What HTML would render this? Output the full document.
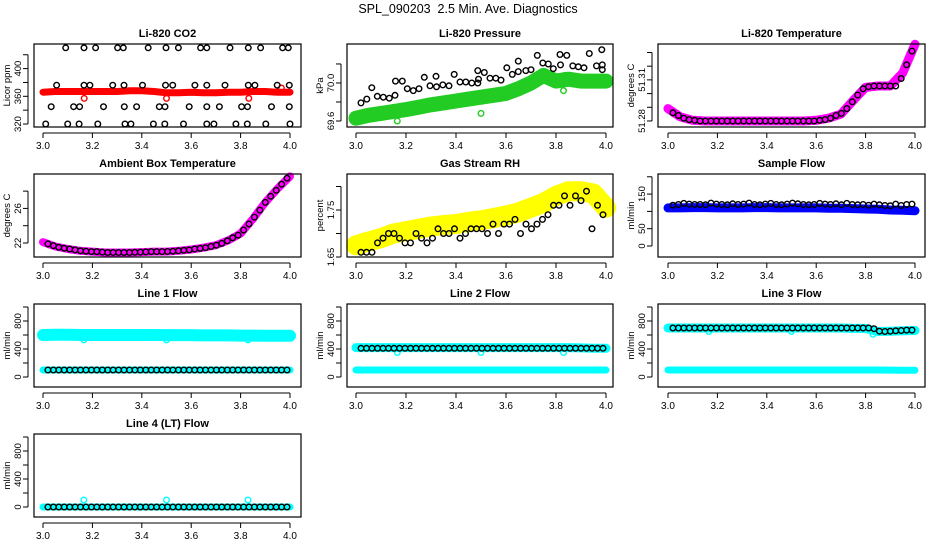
<!DOCTYPE html>
<html><head><meta charset="utf-8"><style>
body{margin:0;background:#fff}
svg{display:block;font-family:"Liberation Sans",sans-serif}
</style></head><body>
<svg id="c" width="936" height="540" viewBox="0 0 936 540" xmlns="http://www.w3.org/2000/svg">
<text x="468" y="13" text-anchor="middle" font-size="12.5">SPL_090203&#160; 2.5 Min. Ave. Diagnostics</text>
</svg>
<script>
const XT=[3.0,3.2,3.4,3.6,3.8,4.0];
const BAND_X=[3.0,3.05,3.1,3.15,3.2,3.25,3.3,3.35,3.4,3.45,3.5,3.55,3.6,3.65,3.7,3.75,3.8,3.85,3.9,3.95,4.0];
const BX=[3.02,3.042,3.064,3.086,3.108,3.13,3.152,3.174,3.196,3.218,3.24,3.262,3.284,3.306,3.328,3.35,3.372,3.394,3.416,3.438,3.46,3.482,3.504,3.526,3.548,3.57,3.592,3.614,3.636,3.658,3.68,3.702,3.724,3.746,3.768,3.79,3.812,3.834,3.856,3.878,3.9,3.922,3.944,3.966,3.988];
// CO2
const co2Band=[366,367,367,367,367,367,367,368,368,367,365,365,366,365,365,366,366,367,367,366,366];
const co2BlackX=[3.092,3.166,3.213,3.302,3.325,3.426,3.498,3.548,3.638,3.663,3.757,3.831,3.881,3.970,3.993,
3.055,3.166,3.190,3.282,3.328,3.403,3.496,3.525,3.615,3.663,3.737,3.831,3.858,3.948,3.997,
3.033,3.124,3.148,3.245,3.329,3.379,3.471,3.494,3.592,3.663,3.714,3.804,3.828,3.925,3.997,
3.011,3.100,3.146,3.222,3.332,3.356,3.447,3.493,3.569,3.663,3.692,3.781,3.827,3.902,4.0];
const co2BlackY=[430,430,430,430,430,430,430,430,430,430,430,430,430,430,430,
376,376,376,376,376,376,376,376,376,376,376,376,376,376,376,
345,345,345,345,345,345,345,345,345,345,345,345,345,345,345,
320,320,320,320,320,320,320,320,320,320,320,320,320,320,320];
const co2OutX=[3.167,3.5,3.833,3.965];
const co2OutY=[357,357,357,372];
// Pressure
const presBand=[69.63,69.66,69.68,69.70,69.72,69.745,69.77,69.79,69.81,69.83,69.85,69.87,69.89,69.94,70.0,70.08,70.02,70.04,70.02,70.02,70.02];
const presBlackX=[3.02,3.043,3.063,3.085,3.109,3.133,3.156,3.158,3.185,3.205,3.229,3.252,3.273,3.296,3.32,3.322,3.347,3.372,3.393,3.416,3.439,3.463,3.487,3.487,3.49,3.513,3.536,3.559,3.58,3.603,3.625,3.649,3.649,3.679,3.70,3.725,3.747,3.769,3.789,3.816,3.818,3.843,3.867,3.889,3.912,3.933,3.962,3.983,3.985,3.985];
const presBlackY=[69.79,69.83,69.95,69.86,69.85,69.84,69.87,70.02,70.02,69.94,69.92,69.94,70.06,69.97,70.07,69.96,69.98,69.97,70.09,70.01,70.01,70.0,70.0,70.13,70.04,70.11,70.05,70.05,70.03,70.16,70.09,70.23,70.12,70.13,70.14,70.29,70.21,70.2,70.15,70.3,70.19,70.29,70.18,70.17,70.16,70.31,70.18,70.35,70.19,70.14];
const presOutX=[3.165,3.5,3.83,3.835];
const presOutY=[69.6,69.68,69.92,70.08];
// Li-820 temperature
const tempBand=[51.289,51.283,51.2805,51.28,51.28,51.28,51.28,51.28,51.28,51.28,51.28,51.28,51.2805,51.282,51.285,51.295,51.3045,51.3055,51.3055,51.315,51.336];
const tempBlack=[51.286,51.284,51.282,51.281,51.2805,51.28,51.28,51.28,51.28,51.28,51.28,51.28,51.28,51.28,51.28,51.28,51.28,51.28,51.28,51.28,51.28,51.28,51.28,51.28,51.28,51.28,51.28,51.2805,51.281,51.282,51.284,51.2855,51.289,51.294,51.299,51.3035,51.305,51.3055,51.3055,51.3055,51.3055,51.3055,51.311,51.321,51.331];
// Ambient
const ambBand=[22.1,21.6,21.3,21.1,21.0,20.9,20.9,20.9,20.95,21.0,21.0,21.1,21.25,21.45,21.75,22.3,23.1,24.8,26.7,28.3,29.7];
const ambBlack=[21.9,21.7,21.5,21.4,21.3,21.2,21.1,21.05,21.0,21.0,20.95,20.9,20.9,20.9,20.9,20.9,20.92,20.95,20.97,21.0,21.0,21.0,21.02,21.05,21.1,21.15,21.2,21.3,21.37,21.45,21.6,21.75,21.95,22.25,22.6,22.9,23.5,24.2,25.0,25.8,26.7,27.4,28.1,28.8,29.5];
// RH
const rhBand=[1.675,1.683,1.69,1.70,1.705,1.71,1.715,1.718,1.72,1.725,1.728,1.733,1.738,1.745,1.755,1.765,1.78,1.79,1.79,1.785,1.755];
const rhBlack=[1.66,1.66,1.66,1.68,1.69,1.70,1.70,1.69,1.68,1.68,1.70,1.69,1.68,1.69,1.71,1.70,1.70,1.71,1.69,1.70,1.71,1.71,1.71,1.70,1.72,1.70,1.72,1.72,1.73,1.70,1.72,1.71,1.72,1.73,1.74,1.76,1.76,1.78,1.76,1.78,1.77,1.79,1.71,1.76,1.74];
// Sample flow
const sfBand=[110,110,111,111,110,110,110,111,111,110,110,110,110,109,109,108,107,106,104,103,102];
const sfBlack=[118,120,123,121,120,120,119,124,121,120,119,122,120,121,124,120,119,121,123,120,119,121,124,122,120,119,120,123,121,120,122,119,123,120,119,120,118,121,119,117,116,121,117,120,121];
// Line flows
const l1Up=[600,605,605,600,600,600,600,600,600,600,598,598,598,595,595,595,592,592,590,590,590];
const l1Low=[100,100,100,100,100,100,100,100,100,100,100,100,100,100,100,100,100,100,100,100,100];
const l1Black=[100,100,100,100,100,100,100,100,100,100,100,100,100,100,100,100,100,100,100,100,100,100,100,100,100,100,100,100,100,100,100,100,100,100,100,100,100,100,100,100,100,100,100,100,100];
const l2Up=[420,420,420,420,420,420,420,420,420,420,420,420,420,420,420,420,420,420,415,410,410];
const l2Low=[100,100,100,100,100,100,100,100,100,100,100,100,100,100,100,100,100,100,100,100,100];
const l2Black=[410,410,410,410,410,410,410,410,410,410,410,410,410,410,410,410,410,410,410,410,410,410,410,410,410,410,410,410,410,410,410,410,410,410,410,410,410,410,410,410,410,410,410,410,410];
const l3Up=[700,700,700,700,700,700,700,700,700,700,700,700,700,700,700,695,695,650,655,660,665];
const l3Low=[100,100,100,100,100,100,100,100,100,100,100,100,100,100,100,100,100,100,98,95,95];
const l3Black=[700,700,700,700,700,700,700,700,700,700,700,700,700,700,700,700,700,700,700,700,700,700,700,700,700,700,700,700,700,700,700,700,700,700,700,700,700,690,655,650,655,660,665,670,670];
const l4Band=[0,0,0,0,0,0,0,0,0,0,0,0,0,0,0,0,0,0,0,0,0];
const l4Black=[0,0,0,0,0,0,0,0,0,0,0,0,0,0,0,0,0,0,0,0,0,0,0,0,0,0,0,0,0,0,0,0,0,0,0,0,0,0,0,0,0,0,0,0,0];
const flowOutX=[3.165,3.5,3.83];
const l1OutY=[530,530,530];
const l2OutY=[350,350,350];
const l3OutY=[650,650,610];
const l4OutY=[100,100,100];

const NS='http://www.w3.org/2000/svg';
const svg=document.getElementById('c');
const COLS=[{l:34,r:301,x0:43,x1:290},{l:347,r:613,x0:356,x1:606},{l:658,r:925,x0:668,x1:915}];
function mk(tag,attrs,parent){const e=document.createElementNS(NS,tag);for(const k in attrs)e.setAttribute(k,attrs[k]);(parent||svg).appendChild(e);return e;}

function panel(col,row,title,ylab,ymin,ymax,ticks,labels,slug){
  const C=COLS[col];const top=44+row*130,bot=127+row*130;
  const g=mk('g',{});
  
  
  const sx=v=>C.x0+(v-3)*(C.x1-C.x0);
  const sy=v=>bot-(v-ymin)/(ymax-ymin)*(bot-top);
  const t=mk('text',{x:(C.l+C.r)/2,y:top-7,'text-anchor':'middle','font-size':'11','font-weight':'bold'},g);
  t.textContent=title;
  
  
  const yl=mk('text',{x:0,y:0,'text-anchor':'middle','font-size':'9.5',transform:`translate(${C.l-24},${(top+bot)/2}) rotate(-90)`},g);
  yl.textContent=ylab;
  
  
  const xa=mk('g',{},g);
  
  
  mk('line',{x1:sx(3),x2:sx(4),y1:bot+6,y2:bot+6,stroke:'#000','stroke-width':1},xa);
  XT.forEach(v=>{mk('line',{x1:sx(v),x2:sx(v),y1:bot+6,y2:bot+11,stroke:'#000'},xa);
    const tl=mk('text',{x:sx(v),y:bot+22,'text-anchor':'middle','font-size':'10'},xa);tl.textContent=v.toFixed(1);});
  const ya=mk('g',{},g);
  
  
  mk('line',{x1:C.l-6,x2:C.l-6,y1:sy(ticks[0]),y2:sy(ticks[ticks.length-1]),stroke:'#000'},ya);
  ticks.forEach(v=>{mk('line',{x1:C.l-11,x2:C.l-6,y1:sy(v),y2:sy(v),stroke:'#000'},ya);});
  labels.forEach(v=>{const tl=mk('text',{x:0,y:0,'text-anchor':'middle','font-size':'9.5',transform:`translate(${C.l-13},${sy(v)}) rotate(-90)`},ya);tl.textContent=String(v);});
  const plot=mk('g',{},g);
  
  
  mk('rect',{x:C.l,y:top,width:C.r-C.l,height:bot-top,fill:'none',stroke:'#000','stroke-width':1.2},g);
  return {sx,sy,plot};
}
function band(p,xs,ys,color,w,name){
  const pts=xs.map((x,i)=>p.sx(x).toFixed(1)+','+p.sy(ys[i]).toFixed(1)).join(' ');
  const e=mk('polyline',{points:pts,fill:'none',stroke:color,'stroke-width':w,'stroke-linejoin':'round','stroke-linecap':'round'},p.plot);
  
  
}
function pts(p,xs,ys,color,name){
  const g=mk('g',{},p.plot);
  
  
  xs.forEach((x,i)=>{mk('circle',{cx:p.sx(x).toFixed(1),cy:p.sy(ys[i]).toFixed(1),r:2.8,fill:'none',stroke:color,'stroke-width':1.4},g);});
}
let p;
p=panel(0,0,'Li-820 CO2','Licor ppm',315.7,435.5,[320,340,360,380,400,420],[320,360,400],'co2');
band(p,BAND_X,co2Band,'#ff0000',7,'co2-band');
pts(p,co2OutX,co2OutY,'#ff0000','co2-outliers');
pts(p,co2BlackX,co2BlackY,'#000','co2-points');

p=panel(1,0,'Li-820 Pressure','kPa',69.537,70.41,[69.6,69.8,70.0,70.2],['69.6','70.0'],'pressure');
band(p,BAND_X,presBand,'#22cc22',15,'pressure-band');
pts(p,presOutX,presOutY,'#22cc22','pressure-outliers');
pts(p,presBlackX,presBlackY,'#000','pressure-points');

p=panel(2,0,'Li-820 Temperature','degrees C',51.2756,51.3362,[51.28,51.29,51.30,51.31,51.32,51.33],['51.28','51.31'],'li820-temp');
band(p,BAND_X,tempBand,'#ff00ff',9,'li820-temp-band');
pts(p,BX,tempBlack,'#000','li820-temp-points');

p=panel(0,1,'Ambient Box Temperature','degrees C',20.38,29.98,[22,24,26,28],[22,26],'ambient');
band(p,BAND_X,ambBand,'#ff00ff',8,'ambient-band');
pts(p,BX,ambBlack,'#000','ambient-points');

p=panel(1,1,'Gas Stream RH','percent',1.65,1.8266,[1.65,1.70,1.75,1.80],['1.65','1.75'],'rh');
band(p,BAND_X,rhBand,'#ffff00',20,'rh-band');
pts(p,BX,rhBlack,'#000','rh-points');

p=panel(2,1,'Sample Flow','ml/min',-31.8,208,[0,50,100,150,200],[0,50,150],'sample-flow');
band(p,BAND_X,sfBand,'#0000ff',9,'sample-flow-band');
pts(p,BX,sfBlack,'#000','sample-flow-points');

p=panel(0,2,'Line 1 Flow','ml/min',-143,1043,[0,200,400,600,800,1000],[0,400,800],'line1');
band(p,BAND_X,l1Up,'#00ffff',12,'line1-upper-band');
band(p,BAND_X,l1Low,'#00ffff',7,'line1-lower-band');
pts(p,flowOutX,l1OutY,'#00ffff','line1-outliers');
pts(p,BX,l1Black,'#000','line1-points');

p=panel(1,2,'Line 2 Flow','ml/min',-143,1043,[0,200,400,600,800,1000],[0,400,800],'line2');
band(p,BAND_X,l2Up,'#00ffff',9,'line2-upper-band');
band(p,BAND_X,l2Low,'#00ffff',7,'line2-lower-band');
pts(p,flowOutX,l2OutY,'#00ffff','line2-outliers');
pts(p,BX,l2Black,'#000','line2-points');

p=panel(2,2,'Line 3 Flow','ml/min',-143,1043,[0,200,400,600,800,1000],[0,400,800],'line3');
band(p,BAND_X,l3Up,'#00ffff',9,'line3-upper-band');
band(p,BAND_X,l3Low,'#00ffff',7,'line3-lower-band');
pts(p,flowOutX,l3OutY,'#00ffff','line3-outliers');
pts(p,BX,l3Black,'#000','line3-points');

p=panel(0,3,'Line 4 (LT) Flow','ml/min',-143,1043,[0,200,400,600,800,1000],[0,400,800],'line4');
band(p,BAND_X,l4Band,'#00ffff',7,'line4-band');
pts(p,flowOutX,l4OutY,'#00ffff','line4-outliers');
pts(p,BX,l4Black,'#000','line4-points');
</script>
</body></html>
